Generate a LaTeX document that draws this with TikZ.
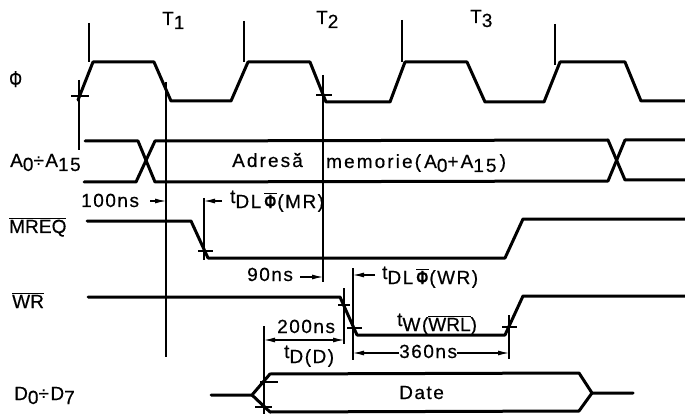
\documentclass[tikz,border=0pt]{standalone}
\usepackage{fontspec}
\setmainfont[LetterSpace=8,FakeBold=0.5]{Liberation Sans}
\newfontfamily\tightf[LetterSpace=0.5,FakeBold=0.5]{Liberation Sans}
\newfontfamily\widef[LetterSpace=11,FakeBold=0.5]{Liberation Sans}
\usetikzlibrary{arrows.meta}
\newcommand{\dn}[1]{\raisebox{-4pt}{#1}}
\newcommand{\tup}{\raisebox{5pt}{t}}
\newcommand{\ovl}[1]{$\overline{\hbox{#1}}$}
\newcommand{\phib}{\ovl{\scalebox{0.75}[1]{\textbf{Φ}}}}
\tikzset{
  sig/.style={line width=3pt,line join=round,line cap=round},
  thin line/.style={line width=1.2pt},
  dim/.style={line width=1.1pt,-{Latex[length=11pt,width=5pt]}},
  lab/.style={anchor=base west,inner sep=0pt,font=\fontsize{19}{19}\selectfont}
}
\begin{document}
\begin{tikzpicture}[x=1pt,y=-1pt]
\useasboundingbox (0,0) rectangle (685,414);
% clock
\draw[sig] (78,100) -- (93,62) -- (154,62) -- (171,101) -- (231,101) -- (248,62) -- (310,62) -- (326,102) -- (390,102) -- (405,62) -- (467,62) -- (485,102) -- (544,102) -- (560,62) -- (625,62) -- (641,101) -- (685,101);
% address bus
\draw[sig] (85,141) -- (138,141) -- (155,182) -- (608,181) -- (625,140) -- (685,140);
\draw[sig] (84,182) -- (136,182) -- (155,141) -- (608,140) -- (625,180) -- (685,180);
% MREQ, WR
\draw[sig] (87,221) -- (191,221) -- (208,258) -- (505,258) -- (523,219) -- (685,219);
\draw[sig] (88,297) -- (340,297) -- (357,335) -- (505,335) -- (523,296) -- (685,296);
% data bus
\draw[sig] (211,395) -- (252,395) -- (270,374) -- (579,373) -- (592,393) -- (633,393);
\draw[sig] (252,395) -- (270,412) -- (579,411) -- (592,393);
% reference lines
\draw[thin line] (89,23) -- (89,62);
\draw[thin line] (244,21) -- (244,62);
\draw[thin line] (402,20) -- (402,62);
\draw[thin line] (555,24) -- (555,65);
\draw[thin line] (79,80) -- (79,150);
\draw[thin line] (71,96) -- (89,96);
\draw[thin line] (166,82) -- (166,357);
\draw[thin line] (323,75) -- (323,282);
\draw[thin line] (316,95) -- (332,95);
\draw[thin line] (204,198) -- (204,260);
\draw[thin line] (198,251) -- (213,251);
\draw[thin line] (344,288) -- (344,344);
\draw[thin line] (338,305) -- (350,305);
\draw[thin line] (353,268) -- (353,360);
\draw[thin line] (347,328) -- (362,328);
\draw[thin line] (509,315) -- (509,359);
\draw[thin line] (502,327) -- (517,327);
\draw[thin line] (264,326) -- (264,414);
\draw[thin line] (260,382) -- (278,382);
\draw[thin line] (255,407) -- (272,407);
% labels
\node[lab] (phi) at (9,87) {\scalebox{0.85}[1.2]{Φ}};
\node[lab] (t1) at (162,25) {T\dn{1}};
\node[lab] (t2) at (316,24) {T\dn{2}};
\node[lab] (t3) at (470,23) {T\dn{3}};
\node[lab] (addr) at (10,167) {A\dn{0}÷A\dn{15}};
\node[lab] (adresa) at (232,167) {\widef Adresă};
\node[lab] (mem) at (326,168) {\widef memorie(\,A\dn{0}+A\dn{15}\,)};
\node[lab] (ns100) at (81,207) {100ns};
\node[lab] (tmr) at (230,208) {\tup DL\,\phib(MR)};
\node[lab] (mreq) at (9,233) {\tightf\ovl{MREQ}};
\node[lab] (ns90) at (247,281) {90ns};
\node[lab] (wr) at (12,308) {\tightf\ovl{WR}};
\node[lab] (twr) at (382,284) {\tup DL\,\phib(WR)};
\node[lab] (tw) at (397,331) {\tup W(\tightf\ovl{WRL})};
\node[lab] (ns200) at (277,333) {200ns};
\node[lab] (td) at (284,363) {\tup D(D)};
\node[lab] (ns360) at (399,358) {360ns};
\node[lab] (date) at (399,399) {Date};
\node[lab] (data) at (14,400) {D\dn{0}÷D\dn{7}};
% dimension arrows
\coordinate (a100) at (166,201);
\coordinate (amr) at (204,201);
\coordinate (a90) at (323,277);
\coordinate (awr) at (353,275);
\coordinate (d1) at (264,340);
\coordinate (d2) at (344,340);
\coordinate (e1) at (353,353);
\coordinate (e2) at (509,353);
\draw[dim] (150,201) -- (a100);
\draw[dim] (222,201) -- (amr);
\draw[dim] (300,277) -- (a90);
\draw[dim] (375,275) -- (awr);
\draw[dim,{Latex[length=11pt,width=5pt]}-{Latex[length=11pt,width=5pt]}] (d1) -- (d2);
\draw[dim] (ns360.west |- e1) -- (e1);
\draw[dim] (ns360.east |- e2) -- (e2);
\end{tikzpicture}
\end{document}
